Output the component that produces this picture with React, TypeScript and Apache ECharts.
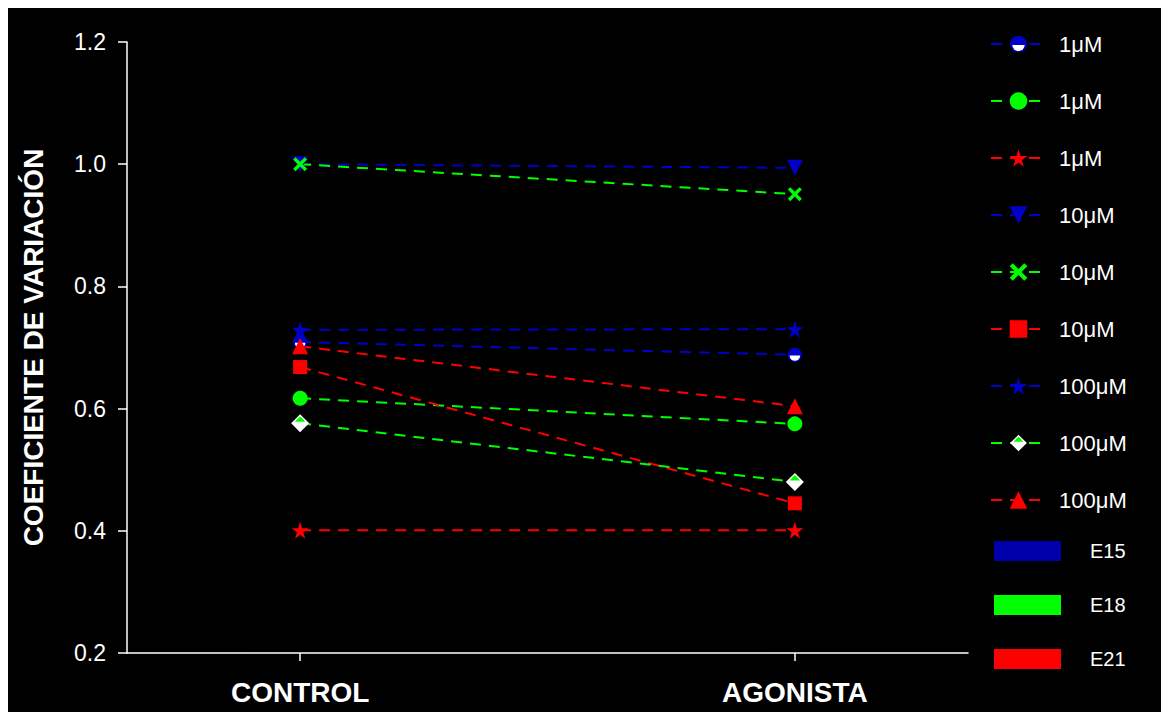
import React, { useEffect, useRef } from "react";
import * as echarts from "echarts";

const categories = ["CONTROL", "AGONISTA"];
const yTickMin = 0.2;
const yTickMax = 1.2;
const yTickStep = 0.2;

// E15 (blue)
const e15_1uM = [0.709, 0.688];
const e15_10uM = [1.0, 0.994];
const e15_100uM = [0.729, 0.73];
// E18 (green)
const e18_1uM = [0.617, 0.575];
const e18_10uM = [1.0, 0.951];
const e18_100uM = [0.576, 0.48];
// E21 (red)
const e21_1uM = [0.401, 0.401];
const e21_10uM = [0.668, 0.445];
const e21_100uM = [0.702, 0.604];

const groups = ["E15", "E18", "E21"];
const BLUE = "#0000C8";
const GREEN = "#00FF00";
const RED = "#FF0000";
const groupColors = ["#0000AA", "#00FF00", "#FF0000"];

const svgUri = (s: string) => "image://data:image/svg+xml;charset=utf-8," + encodeURIComponent(s);
const halfCircle = svgUri(
  `<svg xmlns='http://www.w3.org/2000/svg' width='40' height='40' viewBox='0 0 40 40'><circle cx='20' cy='20' r='19' fill='${BLUE}'/><path d='M6,22 A14,14 0 0 0 34,22 Z' fill='#ffffff'/></svg>`
);
const halfDiamond = svgUri(
  `<svg xmlns='http://www.w3.org/2000/svg' width='40' height='40' viewBox='0 0 40 40'><polygon points='20,1 39,20 20,39 1,20' fill='#ffffff'/><polygon points='20,5 31,17 9,17' fill='${GREEN}'/></svg>`
);
const starPath = "path://M50,0 L61,35 L98,35 L68,57 L79,91 L50,70 L21,91 L32,57 L2,35 L39,35 Z";
const crossPath = "path://M0,17 L17,0 L50,33 L83,0 L100,17 L67,50 L100,83 L83,100 L50,67 L17,100 L0,83 L33,50 Z";

const FONT = 'Arial, "Liberation Sans", sans-serif';

type S = { name: string; data: number[]; color: string; symbol: string; size: number; rotate?: number };
const seriesDefs: S[] = [
  { name: "1μM E15", data: e15_1uM, color: BLUE, symbol: halfCircle, size: 15 },
  { name: "1μM E18", data: e18_1uM, color: GREEN, symbol: "circle", size: 15 },
  { name: "1μM E21", data: e21_1uM, color: RED, symbol: starPath, size: 17 },
  { name: "10μM E15", data: e15_10uM, color: BLUE, symbol: "triangle", size: 16, rotate: 180 },
  { name: "10μM E18", data: e18_10uM, color: GREEN, symbol: crossPath, size: 14 },
  { name: "10μM E21", data: e21_10uM, color: RED, symbol: "rect", size: 14 },
  { name: "100μM E15", data: e15_100uM, color: BLUE, symbol: starPath, size: 17 },
  { name: "100μM E18", data: e18_100uM, color: GREEN, symbol: halfDiamond, size: 19 },
  { name: "100μM E21", data: e21_100uM, color: RED, symbol: "triangle", size: 16 },
];

export default function App() {
  const ref = useRef<HTMLDivElement>(null);
  useEffect(() => {
    if (!ref.current) return;
    const chart = echarts.init(ref.current, null, { renderer: "svg" });
    const lineSeries = seriesDefs.map((s) => ({
      type: "line",
      name: s.name,
      data: s.data.map((v, i) => [i + 1, v]),
      symbol: s.symbol,
      symbolSize: s.size,
      symbolRotate: s.rotate || 0,
      showAllSymbol: true,
      itemStyle: { color: s.color, opacity: 1 },
      lineStyle: { color: s.color, width: 2, type: [11, 8] },
      emphasis: { disabled: true },
    }));
    const groupSeries = groups.map((g, i) => ({
      type: "bar",
      name: g,
      data: [],
      itemStyle: { color: groupColors[i] },
    }));
    chart.setOption({
      animation: false,
      backgroundColor: "#000000",
      grid: { left: 119, right: 201, top: 34, bottom: 59 },
      xAxis: {
        type: "value",
        min: 0.65,
        max: 2.35,
        splitLine: { show: false },
        axisLine: { lineStyle: { color: "#ffffff", width: 1.5 } },
        axisTick: { show: true, customValues: [1, 2], length: 8, lineStyle: { color: "#ffffff", width: 1.5 } },
        axisLabel: {
          customValues: [1, 2],
          formatter: (v: number) => categories[Math.round(v) - 1] || "",
          color: "#ffffff",
          fontFamily: FONT,
          fontWeight: "bold",
          fontSize: 28,
          margin: 25,
        },
      },
      yAxis: {
        type: "value",
        min: yTickMin,
        max: yTickMax,
        interval: yTickStep,
        name: "COEFICIENTE DE VARIACIÓN",
        nameLocation: "middle",
        nameGap: 80,
        nameTextStyle: { color: "#ffffff", fontFamily: FONT, fontWeight: "bold", fontSize: 28 },
        splitLine: { show: false },
        axisLine: { show: true, lineStyle: { color: "#ffffff", width: 1.5 } },
        axisTick: { show: true, length: 9, lineStyle: { color: "#ffffff", width: 1.5 } },
        axisLabel: {
          formatter: (v: number) => v.toFixed(1),
          color: "#ffffff",
          fontFamily: FONT,
          fontSize: 23,
          margin: 21,
        },
      },
      legend: [
        {
          data: seriesDefs.map((s) => s.name),
          orient: "vertical",
          left: 977,
          top: 20,
          itemWidth: 55,
          itemHeight: 22,
          itemGap: 35,
          formatter: (n: string) => n.split(" ")[0],
          textStyle: { color: "#ffffff", fontFamily: FONT, fontSize: 22, lineHeight: 22, padding: [0, 0, 0, 8] },
          selectedMode: false,
        },
        {
          data: groups,
          orient: "vertical",
          left: 981,
          top: 528,
          icon: "rect",
          itemWidth: 67,
          itemHeight: 20,
          itemGap: 34,
          textStyle: { color: "#ffffff", fontFamily: FONT, fontSize: 20, lineHeight: 20, padding: [0, 0, 0, 24] },
          selectedMode: false,
        },
      ],
      series: [...lineSeries, ...groupSeries],
    });
    return () => chart.dispose();
  }, []);
  return <div ref={ref} style={{ width: 1161, height: 704 }} />;
}
